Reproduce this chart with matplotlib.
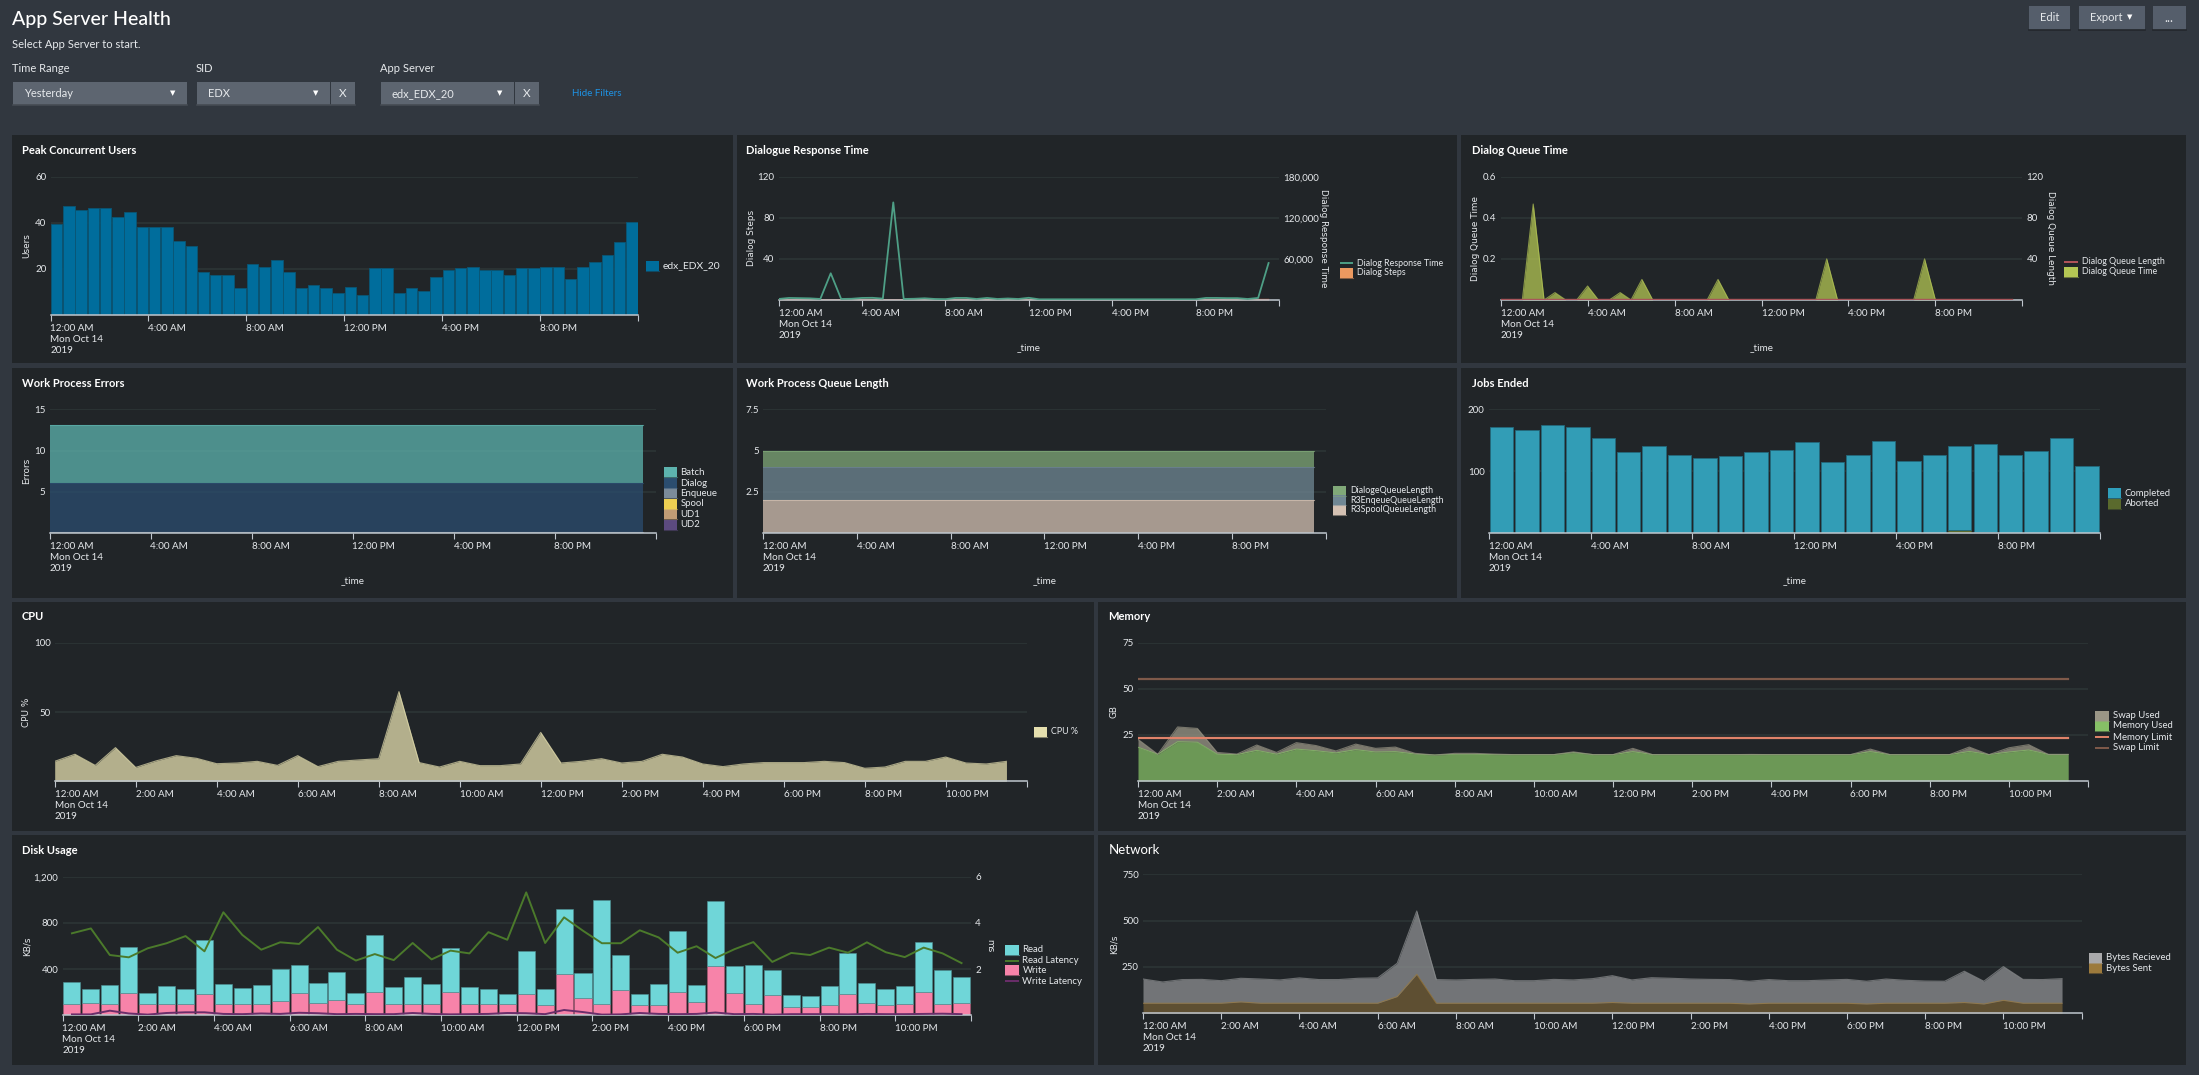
#!/usr/bin/env python3
"""
App Server Health dashboard, dark theme
"""

import numpy as np
import matplotlib
matplotlib.use("Agg")
import matplotlib.pyplot as plt
from matplotlib.patches import Rectangle

W, H = 2199, 1075
PAGE = "#31373f"
PANEL = "#212528"
GRID = "#2d3637"
TEXT = "#e6e9ec"
AXIS = "#c0c7ce"

plt.rcParams["font.family"] = ["Lato", "DejaVu Sans"]

# Peak Concurrent Users
peak_users = [39.5, 47.5, 45.5, 46.5, 46.5, 42.5, 44.5, 38, 38, 38, 32, 30,
              18.5, 17.5, 17.5, 11.5, 22, 21, 24, 18.5, 11.5, 13, 11.5, 9.5,
              12, 8.5, 20.5, 20.5, 9.5, 11.5, 10.5, 16.5, 19.5, 20.5, 21, 19.5,
              19.5, 17.5, 20.5, 20.5, 21, 21, 15.5, 21, 23, 26, 31.5, 40.5]

# Dialogue Response Time
response_time = [1500, 3000, 2700, 2400, 1500, 39000, 1500, 1800, 3000, 3200, 2000, 142500,
                 1500, 1800, 2500, 1500, 1200, 3000, 3000, 1500, 3000, 1500, 2200, 1500,
                 3200, 1000, 1000, 1000, 1000, 1000, 1000, 1000, 1000, 1000, 1000, 1000,
                 1000, 1000, 1000, 1000, 1000, 3000, 3000, 2700, 2700, 1500, 3000, 54000]
dialog_steps = [0.3, 0.4, 0.4, 0.4, 0.3, 0.3, 0.3, 0.3, 0.6, 0.6, 0.3, 0.3,
                0.3, 0.3, 0.4, 0.3, 0.5, 0.6, 0.6, 0.3, 0.4, 0.3, 0.3, 0.3,
                0.4, 0.2, 0.2, 0.2, 0.2, 0.2, 0.2, 0.2, 0.2, 0.2, 0.2, 0.2,
                0.2, 0.2, 0.2, 0.2, 0.2, 0.5, 0.6, 0.6, 0.5, 0.3, 0.5, 0.5]

# Dialog Queue Time
queue_time = [0, 0, 0, 0.467, 0, 0.036, 0, 0, 0.068, 0, 0, 0.036,
              0, 0.1, 0, 0, 0, 0, 0, 0, 0.1, 0, 0, 0,
              0, 0, 0, 0, 0, 0, 0.2, 0, 0, 0, 0, 0,
              0, 0, 0, 0.2, 0, 0, 0, 0, 0, 0, 0, 0]
queue_length = [0.6] * 48

# Work Process Errors
err_batch = [7] * 48
err_dialog = [5.9] * 48
err_enqueue = [0.15] * 48

# Work Process Queue Length
q_dialoge = [1] * 48
q_enqueue = [2] * 48
q_spool = [2] * 48

# Jobs Ended
jobs_completed = [171, 166, 175, 171, 153, 131, 141, 126, 122, 125, 131, 135,
                  147, 114.5, 127, 149, 117, 127, 136, 141.5, 127, 132, 153, 109]
jobs_aborted = [0, 0, 0, 0, 0, 0, 0, 0, 0, 0, 0, 0,
                0, 0, 0, 0, 0, 0, 5, 2, 0, 0, 0, 0]

# CPU
cpu_pct = [14.4, 19.5, 11.5, 24.3, 10, 14.7, 18.5, 16.6, 12.7, 13.2, 14.4, 11.5,
           18.5, 10.6, 14.4, 15.4, 16.3, 64.7, 13.5, 10.3, 14.4, 11.3, 11.3, 12.5,
           35.3, 13.2, 14.4, 16.3, 13.2, 14.4, 19.5, 17.5, 12.5, 10.6, 12.5, 13.5,
           13.5, 13.5, 14.4, 13.5, 9.4, 10.3, 14.4, 14.4, 17.5, 13.2, 12.5, 14.4]

# Memory
mem_used = [18.3, 14.5, 21.3, 21, 14.5, 14.3, 16.6, 14.5, 17.3, 16.4, 15.2, 17,
            15.7, 15.9, 14.6, 14.1, 14.5, 14.5, 14.3, 14.3, 14.3, 14.3, 15.4, 14.3,
            14.3, 15.9, 14.3, 14.3, 14.3, 14.3, 14.3, 14.3, 14.3, 14.3, 14.3, 14.3,
            14.3, 15.9, 14.3, 14.3, 14.3, 14.3, 16, 14.3, 15.7, 16.8, 14.4, 14.4]
swap_used = [4.3, 0, 8, 7.5, 1, 0.3, 2.9, 1, 3.5, 2.8, 1.1, 3,
             2, 2.5, 0.4, 0, 0.5, 0.5, 0.3, 0, 0, 0, 0.4, 0,
             0, 1.8, 0, 0, 0, 0, 0, 0.1, 0, 0, 0, 0,
             0, 1.4, 0, 0, 0, 0, 2.4, 0, 2.3, 2.9, 0, 0]
mem_limit = [23.5] * 48
swap_limit = [55.5] * 48

# Disk Usage
disk_read = [191, 127, 165, 392, 101, 156, 130, 470, 176, 142, 165, 283,
             248, 173, 245, 95, 493, 147, 240, 176, 381, 147, 136, 92,
             373, 138, 562, 222, 903, 303, 95, 184, 528, 148, 563, 240,
             343, 216, 98, 92, 164, 349, 173, 144, 156, 433, 294, 231]
disk_write = [95, 104, 95, 196, 95, 95, 95, 182, 95, 95, 95, 121,
              190, 104, 130, 95, 202, 95, 95, 95, 199, 95, 95, 95,
              187, 87, 355, 147, 95, 216, 87, 87, 199, 112, 424, 190,
              95, 173, 75, 75, 87, 187, 104, 87, 95, 199, 95, 104]
read_latency = [3.55, 3.76, 2.61, 2.51, 2.9, 3.12, 3.43, 2.77, 4.46, 3.48, 2.84, 3.16,
                3.09, 3.82, 2.84, 2.37, 2.65, 2.39, 3.13, 2.42, 2.8, 2.68, 3.6, 3.27,
                5.32, 3.13, 4.24, 3.66, 3.12, 3.12, 3.68, 3.37, 2.71, 2.99, 2.48, 2.86,
                3.17, 2.31, 2.7, 2.61, 2.93, 2.71, 3.16, 2.73, 2.52, 2.93, 2.68, 2.26]
write_latency = [0.04, 0.04, 0.2, 0.08, 0.03, 0.1, 0.13, 0.13, 0.06, 0.05, 0.08, 0.06,
                 0.11, 0.09, 0.05, 0.06, 0.05, 0.05, 0.1, 0.06, 0.04, 0.05, 0.06, 0.1,
                 0.09, 0.05, 0.23, 0.14, 0.03, 0.04, 0.1, 0.06, 0.05, 0.06, 0.12, 0.05,
                 0.06, 0.03, 0.05, 0.05, 0.05, 0.04, 0.06, 0.05, 0.05, 0.06, 0.07, 0.05]

# Network
bytes_sent = [54, 54, 54, 54, 54, 61, 54, 54, 54, 54, 54, 54,
              54, 90, 210, 54, 54, 54, 54, 54, 54, 54, 54, 54,
              58, 54, 54, 54, 54, 54, 54, 50, 54, 54, 54, 54,
              54, 50, 54, 54, 54, 54, 58, 50, 70, 54, 54, 54]
bytes_recv = [131, 115, 128, 129, 122, 128, 131, 126, 137, 128, 128, 135,
              137, 180, 342, 128, 126, 129, 131, 122, 122, 129, 126, 133,
              145, 126, 138, 135, 131, 129, 128, 123, 128, 122, 122, 126,
              129, 123, 131, 124, 120, 119, 169, 123, 182, 129, 128, 133]

hours = np.arange(48) * 0.5

LABELS_4H = ["12:00 AM\nMon Oct 14\n2019", "4:00 AM", "8:00 AM", "12:00 PM", "4:00 PM", "8:00 PM", ""]
LABELS_2H = ["12:00 AM\nMon Oct 14\n2019", "2:00 AM", "4:00 AM", "6:00 AM", "8:00 AM", "10:00 AM",
             "12:00 PM", "2:00 PM", "4:00 PM", "6:00 PM", "8:00 PM", "10:00 PM", ""]

fig = plt.figure(figsize=(W / 100, H / 100), dpi=100, facecolor=PAGE)

# page layer in pixel coordinates: panels, filters, legends
bg = fig.add_axes([0, 0, 1, 1], zorder=-1)
bg.set_xlim(0, W)
bg.set_ylim(H, 0)
bg.axis("off")


def box(x0, y0, x1, y1, color, **kw):
    bg.add_patch(Rectangle((x0, y0), x1 - x0, y1 - y0, facecolor=color, edgecolor="none", **kw))


def label(x, y, s, size=7.5, color=TEXT, ha="left", **kw):
    bg.text(x, y, s, fontsize=size, color=color, ha=ha, va="center", **kw)


def legend(x_mark, x_text, entries, size=6.9):
    # entries: (y, text, color, kind)
    for y, name, color, kind in entries:
        x1 = x_text - 4
        if kind == "line":
            bg.plot([x_mark, x1], [y, y], color=color, lw=1.4, solid_capstyle="butt")
        else:
            box(x_mark, y - 5, x1, y + 5, color)
            bg.plot([x_mark, x1], [y + 5, y + 5], color=color, lw=0.8, alpha=0.5)
        label(x_text, y, name, size=size)


def make_axes(x0, y0, x1, y1, title, title_xy, ymax, yticks, ylabels, xtick_step=4,
              ylabel=None, ylabel_x=None, xlabel_y=None, title_weight="bold", title_size=8):
    ax = fig.add_axes([x0 / W, 1 - y1 / H, (x1 - x0) / W, (y1 - y0) / H], facecolor="none")
    ax.set_xlim(0, 24)
    ax.set_ylim(0, ymax)
    for side in ("left", "right", "top"):
        ax.spines[side].set_visible(False)
    ax.spines["bottom"].set_color(AXIS)
    ax.spines["bottom"].set_linewidth(1.1)

    names = LABELS_4H if xtick_step == 4 else LABELS_2H
    ax.set_xticks(np.arange(0, 25, xtick_step), names, ha="left", linespacing=1.3)
    ax.tick_params(axis="x", length=4, width=0.8, color=AXIS, labelcolor=TEXT, labelsize=7.1, pad=2.2)
    ax.set_yticks(yticks, ylabels)
    ax.tick_params(axis="y", length=0, labelcolor=TEXT, labelsize=7, pad=3)
    ax.grid(axis="y", color=GRID, lw=1.1)
    ax.grid(axis="x", visible=False)
    ax.set_axisbelow(True)

    ax.set_title(title, loc="left", x=(title_xy[0] - x0) / (x1 - x0), y=(y1 - title_xy[1]) / (y1 - y0),
                 fontsize=title_size, fontweight=title_weight, color="white", va="center", pad=0)
    if ylabel:
        ax.set_ylabel(ylabel, fontsize=6.4, color=TEXT, family="DejaVu Sans", va="center")
        ax.yaxis.set_label_coords(ylabel_x, (y0 + y1) / 2, transform=bg.transData)
    if xlabel_y:
        ax.set_xlabel("_time", fontsize=7.1, color=TEXT, va="center")
        ax.xaxis.set_label_coords((x0 + x1) / 2, xlabel_y, transform=bg.transData)
    return ax


def right_axis(ax, ymax, yticks, ylabels, ylabel, ylabel_x, y_mid):
    axr = ax.twinx()
    axr.set_ylim(0, ymax)
    axr.set_yticks(yticks, ylabels)
    axr.tick_params(axis="y", length=0, labelcolor=TEXT, labelsize=7, pad=3)
    for side in ("left", "right", "top", "bottom"):
        axr.spines[side].set_visible(False)
    axr.set_ylabel(ylabel, fontsize=6.4, color=TEXT, family="DejaVu Sans", rotation=270, va="center")
    axr.yaxis.set_label_coords(ylabel_x, y_mid, transform=bg.transData)
    return axr


def area(ax, values, color, base=None, alpha=0.75):
    values = np.asarray(values, dtype=float)
    base = np.zeros(len(values)) if base is None else np.asarray(base, dtype=float)
    ax.fill_between(hours, base, base + values, color=color, alpha=alpha, lw=0)
    ax.plot(hours, base + values, color=color, lw=0.8, alpha=0.7)
    return base + values


# panels
for x0, y0, x1, y1 in [(12, 135, 733, 363), (737, 135, 1457, 363), (1461, 135, 2186, 363),
                       (12, 368, 733, 598), (737, 368, 1457, 598), (1461, 368, 2186, 598),
                       (12, 602, 1094, 831), (1098, 602, 2186, 831),
                       (12, 835, 1094, 1065), (1098, 835, 2186, 1065)]:
    box(x0, y0, x1, y1, PANEL)

# header and filters
label(11.8, 20, "App Server Health", size=14, color="white", fontweight="medium")
label(11.8, 44.7, "Select App Server to start.", size=8)
label(11.8, 68.7, "Time Range", size=8)
label(195.8, 68.7, "SID", size=8)
label(380, 68.7, "App Server", size=8)
for x0, x1 in [(12.7, 187), (197, 330), (331, 355), (381, 513.5), (515, 539)]:
    box(x0, 82, x1, 105.3, "#5d6570")
    bg.plot([x0, x1], [105.3, 105.3], color="#454b53", lw=1.2)
label(24, 93.5, "Yesterday", size=8)
label(208, 93.5, "EDX", size=8)
label(392, 93.5, "edx_EDX_20", size=8)
label(172.7, 93.5, "\u25bc", size=5, ha="center", family="DejaVu Sans", color="white")
label(316, 93.5, "\u25bc", size=5, ha="center", family="DejaVu Sans", color="white")
label(500, 93.5, "\u25bc", size=5, ha="center", family="DejaVu Sans", color="white")
label(343, 93.5, "X", size=8.5, ha="center")
label(527, 93.5, "X", size=8.5, ha="center")
label(572, 93, "Hide Filters", size=7, color="#1e93e6")

for x0, x1, name in [(2028.6, 2070, "Edit"), (2078.8, 2144.7, "Export"), (2152.8, 2185.8, "...")]:
    box(x0, 5.7, x1, 30, "#555e6b")
    bg.plot([x0, x1], [30, 30], color="#23272c", lw=1.2)
label(2049.3, 17.5, "Edit", size=8, ha="center")
label(2106, 17.5, "Export", size=8, ha="center")
label(2130, 17.5, "\u25bc", size=5, ha="center", family="DejaVu Sans", color="white")
label(2169.3, 18.5, "...", size=9, ha="center")

# Peak Concurrent Users
ax = make_axes(50.5, 176.7, 638, 315, "Peak Concurrent Users", (21.7, 150.3), 60, [20, 40, 60], ["20", "40", "60"],
               ylabel="Users", ylabel_x=27)
ax.bar(hours + 0.25, peak_users, width=0.47, color="#006d9c", edgecolor="#0a5675", lw=0.6)
legend(646, 662.5, [(266, "edx_EDX_20", "#006d9c", "box")], size=7.4)

# Dialogue Response Time
ax = make_axes(778.6, 176.7, 1279, 300, "Dialogue Response Time", (746.5, 150.3), 120, [40, 80, 120], ["40", "80", "120"],
               ylabel="Dialog Steps", ylabel_x=751.7, xlabel_y=348)
axr = right_axis(ax, 180000, [60000, 120000, 180000], ["60,000", "120,000", "180,000"],
                 "Dialog Response Time", 1323.7, 238.4)
ax.fill_between(hours, 0, dialog_steps, color="#f0a16b", alpha=0.75, lw=0)
ax.plot(hours, dialog_steps, color="#a8553f", lw=1.0)
axr.plot(hours, response_time, color="#4e9f86", lw=1.3)
legend(1340, 1356.7, [(263, "Dialog Response Time", "#4e9f86", "line"),
                      (272.7, "Dialog Steps", "#ec9960", "box")], size=6.4)

# Dialog Queue Time
ax = make_axes(1500.6, 176.7, 2022.4, 300, "Dialog Queue Time", (1471.5, 150.3), 0.6, [0.2, 0.4, 0.6], ["0.2", "0.4", "0.6"],
               ylabel="Dialog Queue Time", ylabel_x=1475.8, xlabel_y=348)
axr = right_axis(ax, 120, [40, 80, 120], ["40", "80", "120"], "Dialog Queue Length", 2050, 238.4)
area(ax, queue_time, "#b4c654")
axr.plot(hours, queue_length, color="#a8555a", lw=1.0)
legend(2064, 2081.6, [(262, "Dialog Queue Length", "#b4545a", "line"),
                      (271.5, "Dialog Queue Time", "#b4c654", "box")], size=6.4)

# Work Process Errors
ax = make_axes(49.5, 409.3, 655.5, 533.3, "Work Process Errors", (21.7, 383.7), 15, [5, 10, 15], ["5", "10", "15"],
               ylabel="Errors", ylabel_x=27, xlabel_y=581)
top = area(ax, err_enqueue, "#7b8b9a")
top = area(ax, err_dialog, "#2b4d6f", top)
area(ax, err_batch, "#5db3ae", top)
legend(663.5, 680.5, [(472.3, "Batch", "#5db3ae", "box"), (483, "Dialog", "#2b4d6f", "box"),
                      (493.3, "Enqueue", "#7b8b9a", "box"), (503.7, "Spool", "#edcf52", "box"),
                      (514.3, "UD1", "#c19c75", "box"), (524.7, "UD2", "#5c4a7f", "box")])

# Work Process Queue Length
ax = make_axes(763, 409.3, 1325.6, 533.3, "Work Process Queue Length", (746.5, 383.7), 7.5, [2.5, 5, 7.5], ["2.5", "5", "7.5"],
               xlabel_y=581)
top = area(ax, q_spool, "#d4c1b3")
top = area(ax, q_enqueue, "#708794", top)
area(ax, q_dialoge, "#80a878", top)
legend(1333, 1350, [(490.7, "DialogeQueueLength", "#80a878", "box"),
                    (500.3, "R3EnqeueQueueLength", "#708794", "box"),
                    (509.7, "R3SpoolQueueLength", "#d4c1b3", "box")], size=6.4)

# Jobs Ended
ax = make_axes(1488.7, 409.3, 2099.8, 533.3, "Jobs Ended", (1471.5, 383.7), 200, [100, 200], ["100", "200"],
               xlabel_y=581)
job_x = np.arange(24) + 0.5
ax.bar(job_x, jobs_aborted, width=0.92, color="#5a6a2d", edgecolor="#4a5826", lw=0.5)
ax.bar(job_x, jobs_completed, width=0.92, bottom=jobs_aborted, color="#329db6", edgecolor="#24697c", lw=0.6)
legend(2107.5, 2124.6, [(493.3, "Completed", "#2f9fbc", "box"), (503.7, "Aborted", "#5a6a2d", "box")])

# CPU
ax = make_axes(54.7, 642.7, 1026.7, 781.3, "CPU", (21.7, 616.3), 100, [50, 100], ["50", "100"], xtick_step=2,
               ylabel="CPU %", ylabel_x=26.7)
area(ax, cpu_pct, "#e5dfae")
legend(1034, 1051, [(731.7, "CPU %", "#e5dfae", "box")], size=6.4)

# Memory
ax = make_axes(1138, 642.7, 2088, 781, "Memory", (1108.4, 616.3), 75, [25, 50, 75], ["25", "50", "75"], xtick_step=2,
               ylabel="GB", ylabel_x=1114)
top = area(ax, mem_used, "#86c066")
area(ax, swap_used, "#9a9686", top)
ax.plot(hours, mem_limit, color="#e0836a", lw=1.6)
ax.plot(hours, swap_limit, color="#7f5a4a", lw=1.6)
legend(2095, 2112.6, [(715.7, "Swap Used", "#9a9686", "box"), (726, "Memory Used", "#86c066", "box"),
                      (737.3, "Memory Limit", "#e0836a", "line"), (747.7, "Swap Limit", "#7f5a4a", "line")])

# Disk Usage
ax = make_axes(62.5, 876.7, 971, 1015.3, "Disk Usage", (21.7, 850.7), 1200, [400, 800, 1200], ["400", "800", "1,200"],
               xtick_step=2, ylabel="KB/s", ylabel_x=26.7)
axr = right_axis(ax, 6, [2, 4, 6], ["2", "4", "6"], "ms", 989.5, 946)
disk_x = hours + 0.25
ax.bar(disk_x, disk_write, width=0.45, color="#f783a9", edgecolor="#a85a75", lw=0.4)
ax.bar(disk_x, disk_read, width=0.45, bottom=disk_write, color="#6fd6d8", edgecolor="#4f9294", lw=0.4)
axr.plot(disk_x, read_latency, color="#4b7a2b", lw=1.4)
axr.plot(disk_x, write_latency, color="#6b2e6a", lw=1.4)
legend(1005, 1022.5, [(949.7, "Read", "#6fd6d8", "box"), (960.7, "Read Latency", "#4b7a2b", "line"),
                      (970.3, "Write", "#f783a9", "box"), (981.3, "Write Latency", "#6b2e6a", "line")])

# Network
ax = make_axes(1143, 874.3, 2081.6, 1013.3, "Network", (1108.4, 850), 750, [250, 500, 750], ["250", "500", "750"],
               xtick_step=2, ylabel="KB/s", ylabel_x=1114, title_weight="normal", title_size=9.5)
top = area(ax, bytes_sent, "#9c7a3c", alpha=0.5)
area(ax, bytes_recv, "#8e9092", top)
legend(2089, 2106, [(958, "Bytes Recieved", "#a9a9ab", "box"), (968.3, "Bytes Sent", "#9c7a3c", "box")])

fig.savefig("out.png", dpi=100, facecolor=PAGE)
